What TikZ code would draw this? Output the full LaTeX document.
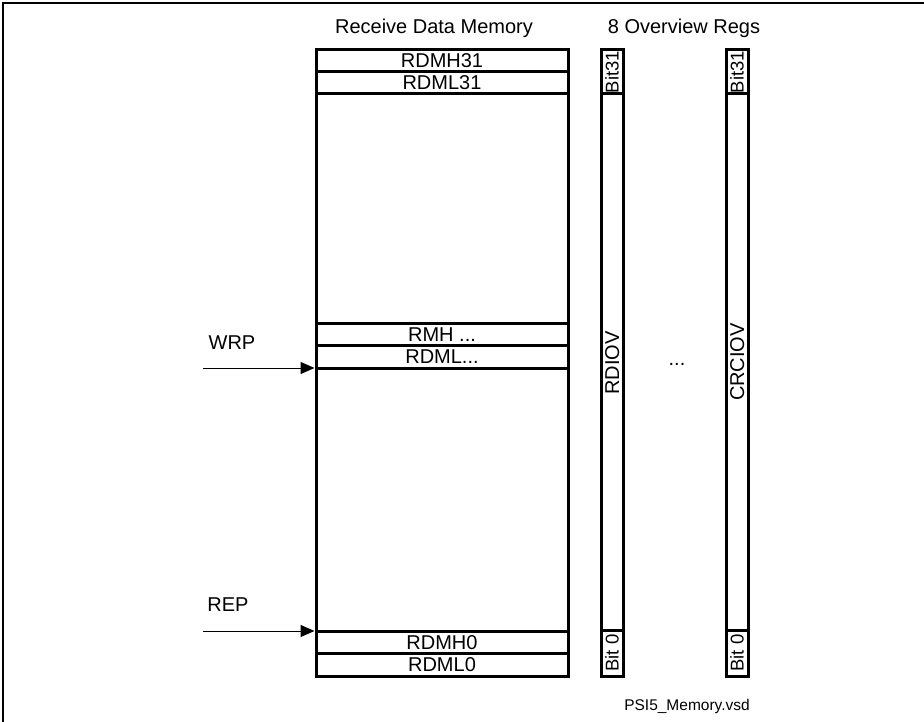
\documentclass[tikz,border=0pt]{standalone}
\usepackage{fontspec}
\setmainfont{Liberation Sans}
\usetikzlibrary{arrows.meta}
\begin{document}
\begin{tikzpicture}[x=1pt,y=-1pt,
  txt/.style={font=\fontsize{20}{23}\selectfont, inner sep=0pt, text height=14pt, text depth=0pt},
  bittxt/.style={font=\fontsize{18.5}{22}\selectfont, inner sep=0pt, text height=13pt, text depth=0pt, rotate=90},
  row/.style={draw, line width=3pt, rectangle, minimum width=252pt, inner sep=0pt, txt},
  cell/.style={draw, line width=3pt, rectangle, minimum width=22pt, inner sep=0pt},
  regbar/.style={draw, line width=3pt, minimum width=22pt, minimum height=626pt, inner sep=0pt},
  ptr/.style={line width=1pt, -{Triangle[length=14pt,width=12pt]}}]
\useasboundingbox (0,0) rectangle (924,722);
\draw[line width=1.6pt] (3,722) -- (3,3) -- (924,3);
% titles
\node[txt] (t1) at (434,26.5) {Receive Data Memory};
\node[txt] (t2) at (684,26.5) {8 Overview Regs};
% memory block
\node[draw, line width=3pt, minimum width=252pt, minimum height=626pt, inner sep=0pt] (mem) at (442,363) {};
\node[row, minimum height=22pt] (rdmh31) at (442,61) {RDMH31};
\node[row, minimum height=22pt] (rdml31) at (442,83) {RDML31};
\node[row, minimum height=22pt] (rmh) at (442,334) {RMH ...};
\node[row, minimum height=23pt] (rdml) at (442,356.5) {RDML...};
\node[row, minimum height=22pt] (rdmh0) at (442,642) {RDMH0};
\node[row, minimum height=23pt] (rdml0) at (442,664.5) {RDML0};
% pointers
\coordinate (wrps) at (203,368);
\coordinate (reps) at (203,631);
\node[txt] (wrp) at (232,342) {WRP};
\node[txt] (rep) at (228,604) {REP};
\draw[ptr] (wrps) -- (wrps -| mem.west);
\draw[ptr] (reps) -- (reps -| mem.west);
% overview regs
\node[regbar] (bar1) at (612,363) {};
\node[cell, minimum height=44pt] (b1top) at (612,72) {};
\node[cell, minimum height=46pt] (b1bot) at (612,653) {};
\node[regbar] (bar2) at (737,363) {};
\node[cell, minimum height=44pt] (b2top) at (737,72) {};
\node[cell, minimum height=46pt] (b2bot) at (737,653) {};
\node[bittxt] (l1a) at (612,72) {Bit31};
\node[bittxt] (l1b) at (612,653) {Bit 0};
\node[bittxt] (l2a) at (737,72) {Bit31};
\node[bittxt] (l2b) at (737,653) {Bit 0};
\node[txt, rotate=90] (rdiov) at (612,363) {RDIOV};
\node[txt, rotate=90] (crciov) at (737,362) {CRCIOV};
\node[txt] (dots) at (677,358) {...};
\node[font=\fontsize{15.5}{18}\selectfont, inner sep=0pt] (fn) at (687,706) {PSI5\_Memory.vsd};
\end{tikzpicture}
\end{document}
